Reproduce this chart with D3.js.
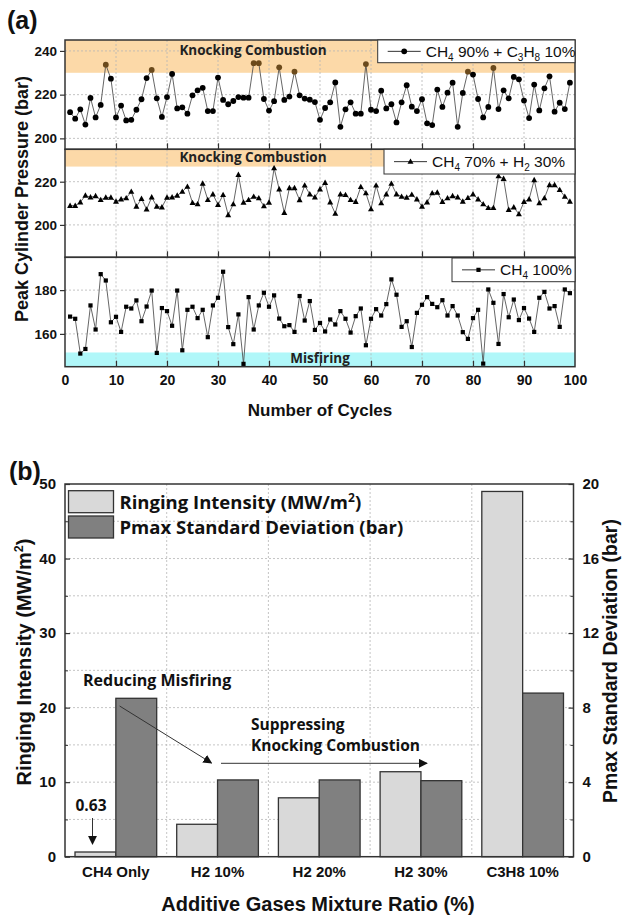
<!DOCTYPE html>
<html><head><meta charset="utf-8">
<script src="https://cdn.jsdelivr.net/npm/d3@7"></script>
<style>body{margin:0;background:#fff}svg{display:block}</style>
</head><body><svg id="c" width="624" height="917"></svg>
<script>
// ---------- DATA: panel (a) ----------
const cycleTicks = [0,10,20,30,40,50,60,70,80,90,100];
const c3h8Mix = [212,209,213.3,206.3,218.5,209.6,215.3,233.7,227.3,209.6,
 215,208.2,208.5,213.1,217.9,227.6,231.3,218.3,209.8,218.9,
 229.5,213.7,214.2,211.3,219.7,222,223.1,212.5,212.5,227.8,
 217.6,215.6,217.1,218.9,218.6,218.6,234.4,234.4,218,212.7,
 217,232.5,217.6,219.1,230.5,219.7,218.2,217.7,216.6,208.5,
 213.9,216.5,225.6,205.3,213.3,216.5,211.3,211.3,234,213.1,
 212.5,221.8,213.7,215.6,207.3,216.5,224.3,214.5,212.5,217.9,
 206.9,206.1,222.3,214.4,220.9,225.5,205.3,220.8,230.5,229.2,
 218,209.6,214.4,232.2,213.4,222,218.3,228.1,227,217.3,
 209.3,224.6,212.8,222.9,228.4,212.2,216.3,213.4,225.5];
const h2Mix = [208.9,208.9,210.5,213.6,212.8,213.4,211.6,212.7,212.7,210.8,
 211.9,212.4,215.4,208.5,212.1,207.2,212.8,208.5,208.2,212.7,
 212.8,213.6,215.4,217.7,210.2,209.6,219.2,211.6,214.2,209.3,
 213.9,204.6,209.6,223.2,210.4,211.6,213.1,212.4,208.7,210.4,
 226.3,216.5,205.6,217.1,217.1,211.5,218.3,214.2,212.8,216.5,
 219.5,210.5,205.2,214.2,213.9,211.6,210.7,217.6,214.7,207.3,
 218.3,210.1,214.2,219.1,214.2,213.1,212.7,214,211.9,208.5,
 210.5,214.7,215,210.7,212.4,213.4,212.8,210.8,212.5,214.2,
 211.9,209.6,207.9,207.9,222.6,221.4,207,208.2,205,210.7,
 211.9,220.8,210.1,212.4,218.5,218.5,216.2,213.1,210.8];
const ch4Only = [167.9,166.9,151,153.1,173,162,187.3,184.4,165.3,167.8,
 160.9,172.4,171.6,175.3,165.8,172.5,179.8,151.3,171.8,170.4,
 163.7,179.8,152.5,171,172.4,167.2,171,158.5,173,176.5,
 188.4,163.1,155.3,168.9,146.3,176.8,162,173,178.8,172.4,
 177.6,167,163.5,164,160.9,177.3,166.1,175,161.8,165,
 161.1,166.6,164.3,170.4,166.9,160.6,168.1,171.6,154.8,166.9,
 171.3,168.4,173.6,184.9,177.9,163.2,165.8,154,169.6,173.3,
 176.8,173.7,172.2,175.4,168.4,172.7,168.4,160.8,157.7,167.2,
 171,146.4,180.3,174.2,155.4,178.2,167.6,175.7,166.3,171.8,
 167,160.9,176.5,179.2,171.6,172.7,163.2,180.3,178.6];
const c3h8Ticks = [200,220,240];
const h2Ticks = [200,220];
const ch4Ticks = [160,180];
const knockLimitC3H8 = 230;

// ---------- DATA: panel (b) ----------
const categories = ["CH4 Only","H2 10%","H2 20%","H2 30%","C3H8 10%"];
const ringingIntensity = [0.63,4.35,7.9,11.4,49];
const pmaxStd = [8.5,4.12,4.12,4.08,8.78];
const leftTicks = [0,10,20,30,40,50];
const rightTicks = [0,4,8,12,16,20];

const svg = d3.select("#c");
const AX = "'Liberation Sans', Arial, sans-serif";
const KR = "'Open Sans', 'Noto Sans', sans-serif";
const FRAME = "#333";

// ================= PANEL (a) =================
const L = 65, R = 575;
const x = d3.scaleLinear().domain([0,100]).range([L,R]);
const subs = [
  {data:c3h8Mix, dom:[195,245], ticks:c3h8Ticks, top:40, bot:149.3, mk:"circle",
   band:[230,245], bandFill:"#fcd9a8", bandText:"Knocking Combustion", bandTextY:55,
   leg:{x0:377.7, y0:40, x1:575, y1:62.7, parts:[["CH",0],["4",1],[" 90% + C",0],["3",1],["H",0],["8",1],[" 10%",0]]}},
  {data:h2Mix, dom:[185,235], ticks:h2Ticks, top:149.3, bot:257.3, mk:"triangle",
   band:[227,235], bandFill:"#fcd9a8", bandText:"Knocking Combustion", bandTextY:162,
   leg:{x0:384, y0:149.3, x1:575, y1:174, parts:[["CH",0],["4",1],[" 70% + H",0],["2",1],[" 30%",0]]}},
  {data:ch4Only, dom:[145,195], ticks:ch4Ticks, top:257.3, bot:366.7, mk:"square",
   band:[145,151.5], bandFill:"#b0f7f9", bandText:"Misfiring", bandTextY:363,
   leg:{x0:452, y0:258, x1:575, y1:281.7, parts:[["CH",0],["4",1],[" 100%",0]]}}
];

function marker(sel, type, color){
  if(type==="circle") return sel.append("circle").attr("r",2.9).attr("fill",color);
  if(type==="square") return sel.append("rect").attr("x",-2.1).attr("y",-2.1).attr("width",4.2).attr("height",4.2).attr("fill",color);
  return sel.append("path").attr("d","M0,-3.2L3,2.2L-3,2.2Z").attr("fill",color);
}

subs.forEach((s,k)=>{
  const y = d3.scaleLinear().domain(s.dom).range([s.bot,s.top]);
  const g = svg.append("g");
  g.append("rect").attr("x",L).attr("width",R-L)
    .attr("y",y(s.band[1])).attr("height",y(s.band[0])-y(s.band[1])).attr("fill",s.bandFill);
  g.append("g").selectAll("line").data(cycleTicks.slice(1,-1)).join("line")
    .attr("x1",d=>x(d)).attr("x2",d=>x(d)).attr("y1",s.top).attr("y2",s.bot)
    .attr("stroke","#b5b5b5").attr("stroke-width",0.8).attr("stroke-dasharray","2,2");
  g.append("g").selectAll("line").data(s.ticks).join("line")
    .attr("x1",L).attr("x2",R).attr("y1",d=>y(d)).attr("y2",d=>y(d))
    .attr("stroke","#b5b5b5").attr("stroke-width",0.8).attr("stroke-dasharray","2,2");
  g.append("text").attr("x", s.bandText==="Misfiring"?320:253).attr("y",s.bandTextY)
    .attr("text-anchor","middle").attr("font-family",KR).attr("font-weight",700)
    .attr("font-size",13.5).attr("fill","#222").text(s.bandText);
  const pts = s.data.map((v,i)=>[i+1,v]);
  g.append("path").datum(pts)
    .attr("d", d3.line().x(d=>x(d[0])).y(d=>y(d[1])))
    .attr("fill","none").attr("stroke","#555").attr("stroke-width",0.9);
  g.append("g").selectAll("g").data(pts).join("g")
    .attr("transform",d=>`translate(${x(d[0])},${y(d[1])})`)
    .each(function(d){
      const col = (s.mk==="circle" && d[1]>=knockLimitC3H8) ? "#6b4a1c" : "#000";
      marker(d3.select(this), s.mk, col);
    });
  const ya = g.append("g").attr("transform",`translate(${L},0)`)
    .call(d3.axisLeft(y).tickValues(s.ticks).tickSize(5).tickPadding(3));
  ya.select(".domain").remove();
  ya.selectAll("line").attr("stroke",FRAME).attr("stroke-width",1.2);
  ya.selectAll("text").attr("font-family",AX).attr("font-weight",700).attr("font-size",13.5).attr("fill","#111");
  const xa = g.append("g").attr("transform",`translate(0,${s.bot})`)
    .call(d3.axisBottom(x).tickValues(cycleTicks.slice(1,-1)).tickSize(-6).tickFormat(""));
  xa.select(".domain").remove();
  xa.selectAll("line").attr("stroke",FRAME).attr("stroke-width",1.2);
  g.append("rect").attr("x",L).attr("y",s.top).attr("width",R-L).attr("height",s.bot-s.top)
    .attr("fill","none").attr("stroke",FRAME).attr("stroke-width",1.5);
  const lg = s.leg;
  g.append("rect").attr("x",lg.x0).attr("y",lg.y0).attr("width",lg.x1-lg.x0).attr("height",lg.y1-lg.y0)
    .attr("fill","#fff").attr("stroke",FRAME).attr("stroke-width",1);
  const ly = (lg.y0+lg.y1)/2;
  g.append("line").attr("x1",lg.x0+10).attr("x2",lg.x0+43).attr("y1",ly).attr("y2",ly)
    .attr("stroke","#333").attr("stroke-width",1);
  marker(g.append("g").attr("transform",`translate(${lg.x0+26.5},${ly})`), s.mk, "#000");
  const t = g.append("text").attr("x",lg.x0+48).attr("y",ly+5.5)
    .attr("font-family",AX).attr("font-size",15.5).attr("fill","#111");
  let sub=false;
  lg.parts.forEach(p=>{
    const ts = t.append("tspan").text(p[0]);
    if(p[1] && !sub){ ts.attr("dy",4).attr("font-size",10); sub=true; }
    else if(p[1]){ ts.attr("font-size",10); }
    else if(sub){ ts.attr("dy",-4); sub=false; }
  });
  if(k===2){
    const xb = g.append("g").attr("transform",`translate(0,${s.bot})`)
      .call(d3.axisBottom(x).tickValues(cycleTicks).tickSize(0).tickPadding(8));
    xb.select(".domain").remove();
    xb.selectAll("text").attr("font-family",AX).attr("font-weight",700).attr("font-size",14).attr("fill","#111");
  }
});
svg.append("text").attr("transform","translate(28,199) rotate(-90)").attr("text-anchor","middle")
  .attr("font-family",AX).attr("font-weight",700).attr("font-size",18).attr("fill","#111").text("Peak Cylinder Pressure (bar)");
svg.append("text").attr("x",320).attr("y",416).attr("text-anchor","middle")
  .attr("font-family",AX).attr("font-weight",700).attr("font-size",17).attr("fill","#111").text("Number of Cycles");
svg.append("text").attr("x",7).attr("y",29).attr("font-family",AX).attr("font-weight",700)
  .attr("font-size",25).attr("fill","#111").text("(a)");

// ================= PANEL (b) =================
const bL = 65, bR = 573.5, bT = 484, bB = 856.7;
const x0 = d3.scaleBand().domain(categories).range([bL,bR]).padding(0);
const x1 = d3.scaleBand().domain(["ri","sd"]).range([0,x0.bandwidth()]).paddingInner(0).paddingOuter(0.245);
const yl = d3.scaleLinear().domain([0,50]).range([bB,bT]);
const yr = d3.scaleLinear().domain([0,20]).range([bB,bT]);
const gb = svg.append("g");
gb.append("g").selectAll("line").data(d3.range(5,50,5)).join("line")
  .attr("x1",bL).attr("x2",bR).attr("y1",d=>yl(d)).attr("y2",d=>yl(d))
  .attr("stroke","#b5b5b5").attr("stroke-width",0.8).attr("stroke-dasharray","2,2");
gb.append("g").selectAll("line").data(categories.slice(1)).join("line")
  .attr("x1",d=>x0(d)).attr("x2",d=>x0(d)).attr("y1",bT).attr("y2",bB)
  .attr("stroke","#b5b5b5").attr("stroke-width",0.8).attr("stroke-dasharray","2,2");
gb.append("g").selectAll("rect").data(categories).join("rect")
  .attr("x",d=>x0(d)+x1("ri")).attr("width",x1.bandwidth())
  .attr("y",(d,i)=>yl(ringingIntensity[i])).attr("height",(d,i)=>bB-yl(ringingIntensity[i]))
  .attr("fill","#d9d9d9").attr("stroke","#333").attr("stroke-width",1.3);
gb.append("g").selectAll("rect").data(categories).join("rect")
  .attr("x",d=>x0(d)+x1("sd")).attr("width",x1.bandwidth())
  .attr("y",(d,i)=>yr(pmaxStd[i])).attr("height",(d,i)=>bB-yr(pmaxStd[i]))
  .attr("fill","#808080").attr("stroke","#333").attr("stroke-width",1.3);
const la = gb.append("g").attr("transform",`translate(${bL},0)`)
  .call(d3.axisLeft(yl).tickValues(leftTicks).tickSize(-5).tickPadding(9));
la.select(".domain").remove();
la.selectAll("line").attr("stroke",FRAME).attr("stroke-width",1.2);
la.selectAll("text").attr("font-family",AX).attr("font-weight",700).attr("font-size",15).attr("fill","#111");
const lm = gb.append("g").attr("transform",`translate(${bL},0)`)
  .call(d3.axisLeft(yl).tickValues(d3.range(5,50,10)).tickSize(-3).tickFormat(""));
lm.select(".domain").remove(); lm.selectAll("line").attr("stroke",FRAME);
const ra = gb.append("g").attr("transform",`translate(${bR},0)`)
  .call(d3.axisRight(yr).tickValues(rightTicks).tickSize(-5).tickPadding(9));
ra.select(".domain").remove();
ra.selectAll("line").attr("stroke",FRAME).attr("stroke-width",1.2);
ra.selectAll("text").attr("font-family",AX).attr("font-weight",700).attr("font-size",15).attr("fill","#111");
const rm = gb.append("g").attr("transform",`translate(${bR},0)`)
  .call(d3.axisRight(yr).tickValues(d3.range(2,20,4)).tickSize(-3).tickFormat(""));
rm.select(".domain").remove(); rm.selectAll("line").attr("stroke",FRAME);
const ba = gb.append("g").attr("transform",`translate(0,${bB})`)
  .call(d3.axisBottom(x0).tickSize(0).tickPadding(10));
ba.select(".domain").remove();
ba.selectAll("text").attr("font-family",AX).attr("font-weight",700).attr("font-size",15).attr("fill","#111");
gb.append("rect").attr("x",bL).attr("y",bT).attr("width",bR-bL).attr("height",bB-bT)
  .attr("fill","none").attr("stroke",FRAME).attr("stroke-width",1.5);
[["#d9d9d9",490.7,"Ringing Intensity (MW/m","2",")"],["#808080",516,"Pmax Standard Deviation (bar)","",""]].forEach(r=>{
  gb.append("rect").attr("x",68.5).attr("y",r[1]).attr("width",45).attr("height",22)
    .attr("fill",r[0]).attr("stroke","#333").attr("stroke-width",1.3);
  const t = gb.append("text").attr("x",119.5).attr("y",r[1]+18).attr("font-family",KR)
    .attr("font-weight",700).attr("font-size",18.5).attr("fill","#111").text(r[2]);
  if(r[3]){ t.append("tspan").attr("dy",-7).attr("font-size",12).text(r[3]);
            t.append("tspan").attr("dy",7).text(r[4]); }
});
const defs = svg.append("defs");
defs.append("marker").attr("id","ah").attr("viewBox","0 0 10 10").attr("refX",9).attr("refY",5)
  .attr("markerWidth",9).attr("markerHeight",9).attr("orient","auto").attr("markerUnits","userSpaceOnUse")
  .append("path").attr("d","M0,0L10,5L0,10Z").attr("fill","#111");
function arrow(xa,ya,xb,yb){
  gb.append("line").attr("x1",xa).attr("y1",ya).attr("x2",xb).attr("y2",yb)
    .attr("stroke","#333").attr("stroke-width",1).attr("marker-end","url(#ah)");
}
gb.append("text").attr("x",83).attr("y",686).attr("font-family",KR).attr("font-weight",700)
  .attr("font-size",16).attr("fill","#111").text("Reducing Misfiring");
arrow(119.6,706,211.5,763);
gb.append("text").attr("x",251).attr("y",730).attr("font-family",KR).attr("font-weight",700)
  .attr("font-size",15.5).attr("fill","#111").text("Suppressing");
gb.append("text").attr("x",251).attr("y",751).attr("font-family",KR).attr("font-weight",700)
  .attr("font-size",15.5).attr("fill","#111").text("Knocking Combustion");
arrow(221,763.3,427,763.3);
gb.append("text").attr("x",91).attr("y",811).attr("text-anchor","middle").attr("font-family",KR).attr("font-weight",700)
  .attr("font-size",15.5).attr("fill","#111").text("0.63");
arrow(92.5,818,92.5,844);
svg.append("text").attr("transform","translate(31,662) rotate(-90)").attr("text-anchor","middle")
  .attr("font-family",AX).attr("font-weight",700).attr("font-size",20).attr("fill","#111")
  .call(t=>{ t.append("tspan").text("Ringing Intensity (MW/m");
             t.append("tspan").attr("dy",-8).attr("font-size",12.5).text("2");
             t.append("tspan").attr("dy",8).text(")"); });
svg.append("text").attr("transform","translate(617,661) rotate(-90)").attr("text-anchor","middle")
  .attr("font-family",AX).attr("font-weight",700).attr("font-size",19.5).attr("fill","#111").text("Pmax Standard Deviation (bar)");
svg.append("text").attr("x",318).attr("y",911).attr("text-anchor","middle")
  .attr("font-family",AX).attr("font-weight",700).attr("font-size",20).attr("fill","#111").text("Additive Gases Mixture Ratio (%)");
svg.append("text").attr("x",9).attr("y",480).attr("font-family",AX).attr("font-weight",700)
  .attr("font-size",25).attr("fill","#111").text("(b)");
</script></body></html>
